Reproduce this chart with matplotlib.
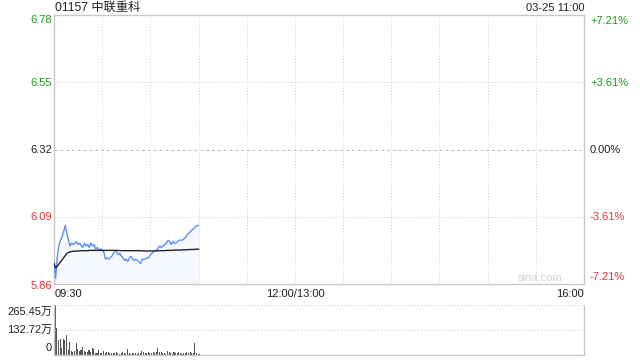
import matplotlib
matplotlib.use("Agg")
import matplotlib.pyplot as plt
import numpy as np

plt.rcParams['font.family'] = ['Liberation Sans', 'Noto Sans CJK SC', 'DejaVu Sans']

title = "01157 中联重科"
stamp = "03-25 11:00"
prev_close = 6.32
price_ticks = [6.78, 6.55, 6.32, 6.09, 5.86]
pct_labels = ["+7.21%", "+3.61%", "0.00%", "-3.61%", "-7.21%"]
time_labels = ["09:30", "12:00/13:00", "16:00"]
vol_labels = ["265.45万", "132.72万", "0"]
vol_ticks = [265.45, 132.72, 0]

price = [5.93, 5.88, 5.95, 5.99, 6.01, 6.02, 6.04, 6.06, 6.035, 6.01,
         5.99, 6.00, 5.995, 6.00, 6.005, 5.995, 6.00, 5.99, 5.985, 6.00,
         5.99, 5.995, 5.985, 6.00, 5.99, 5.995, 5.98, 5.985, 5.975, 5.98,
         5.975, 5.97, 5.945, 5.95, 5.945, 5.95, 5.955, 5.965, 5.975, 5.97,
         5.96, 5.965, 5.955, 5.95, 5.94, 5.945, 5.937, 5.95, 5.955, 5.945,
         5.94, 5.945, 5.94, 5.935, 5.93, 5.945, 5.945, 5.945, 5.95, 5.95,
         5.96, 5.965, 5.97, 5.975, 5.975, 5.985, 5.99, 5.985, 5.99, 5.995,
         6.00, 6.01, 6.005, 5.995, 6.005, 6.00, 6.00, 6.005, 6.01, 6.01,
         6.01, 6.015, 6.02, 6.03, 6.033, 6.04, 6.045, 6.05, 6.055, 6.06,
         6.06]

avg = [5.930, 5.915, 5.920, 5.928, 5.935, 5.942, 5.950, 5.957, 5.965, 5.968,
       5.970, 5.971, 5.972, 5.972, 5.973, 5.973, 5.973, 5.974, 5.974, 5.974,
       5.974, 5.974, 5.975, 5.975, 5.975, 5.975, 5.975, 5.975, 5.975, 5.975,
       5.975, 5.975, 5.975, 5.975, 5.975, 5.975, 5.975, 5.975, 5.975, 5.975,
       5.975, 5.974, 5.974, 5.974, 5.974, 5.974, 5.974, 5.974, 5.974, 5.974,
       5.974, 5.974, 5.974, 5.974, 5.974, 5.973, 5.973, 5.973, 5.973, 5.973,
       5.973, 5.973, 5.973, 5.973, 5.973, 5.974, 5.974, 5.974, 5.974, 5.974,
       5.975, 5.975, 5.975, 5.975, 5.975, 5.976, 5.976, 5.976, 5.976, 5.976,
       5.977, 5.977, 5.977, 5.977, 5.978, 5.978, 5.978, 5.978, 5.979, 5.979,
       5.979]

volume = [265, 141, 80, 83, 35, 83, 80, 106, 27, 67,
          23, 14, 20, 65, 30, 22, 27, 44, 22, 18,
          14, 27, 18, 35, 30, 8, 10, 27, 8, 12,
          20, 10, 18, 14, 8, 12, 10, 8, 14, 12,
          6, 8, 14, 10, 6, 32, 8, 5, 12, 8,
          10, 6, 12, 8, 22, 14, 10, 8, 16, 12,
          10, 18, 12, 14, 39, 18, 14, 8, 12, 6,
          22, 14, 10, 6, 18, 12, 8, 14, 10, 6,
          12, 8, 14, 10, 16, 12, 8, 62, 10, 6,
          4]

W, H = 640, 360
fig = plt.figure(figsize=(6.4, 3.6), dpi=100)

def fx(px):
    return px / W

def fy(py):
    return 1 - py / H

L, R = 54, 584
ax = fig.add_axes([fx(L), fy(284), fx(R - L), fy(15) - fy(284)])
axv = fig.add_axes([fx(L), fy(355), fx(R - L), fy(305) - fy(355)])

green = '#1a9e1a'
red = '#f03030'
dark = '#222222'
border = '#c8c8c8'
gridc = '#d0d0d0'

xp = np.arange(len(price))
xa = np.arange(len(avg))
xv = np.arange(len(volume))

ax.set_xlim(0, 330)
ax.set_ylim(price_ticks[-1], price_ticks[0])
ax.fill_between(xp, price, price_ticks[-1], color='#f5f8fe', lw=0, zorder=1)
ax.plot(xp, price, color='#5b8ff9', lw=1.0, zorder=3)
ax.plot(xa, avg, color='#222222', lw=1.0, zorder=4)

for t in np.arange(30, 330, 30):
    ax.axvline(t, color=gridc, lw=0.7, ls=(0, (1, 2)), zorder=0)
for p in price_ticks[1:-1]:
    if abs(p - prev_close) < 1e-9:
        ax.axhline(p, color='#b8b8b8', lw=0.7, ls=(0, (3, 3)), zorder=0)
    else:
        ax.axhline(p, color=gridc, lw=0.7, ls=(0, (1, 2)), zorder=0)

ax.set_xticks([]); ax.set_yticks([])
for s in ax.spines.values():
    s.set_color(border); s.set_linewidth(1)

fs = 8
left_y = [20, 83, 150, 217, 286]
right_y = [21, 83, 150, 217, 277]
for i, (p, lab) in enumerate(zip(price_ticks, pct_labels)):
    if p > prev_close + 1e-9:
        c = green
    elif p < prev_close - 1e-9:
        c = red
    else:
        c = dark
    fig.text(fx(52), fy(left_y[i]), f"{p:.2f}", color=c, fontsize=fs,
             ha='right', va='center')
    fig.text(fx(590), fy(right_y[i]), lab, color=c, fontsize=fs,
             ha='left', va='center')

fig.text(fx(55), fy(8), title, color=dark, fontsize=8.8, ha='left', va='center')
fig.text(fx(584), fy(8), stamp, color=dark, fontsize=fs, ha='right', va='center')

fig.text(fx(55), fy(294), time_labels[0], color=dark, fontsize=fs, ha='left', va='center')
fig.text(fx(54 + 530 * 150 / 330), fy(294), time_labels[1], color=dark, fontsize=fs,
         ha='center', va='center')
fig.text(fx(584), fy(294), time_labels[2], color=dark, fontsize=fs, ha='right', va='center')

fig.text(fx(540), fy(278), "sina.com", color='#d0d0d0', fontsize=fs, ha='center', va='center')

# volume
axv.set_xlim(-0.5, 330)
axv.set_ylim(0, vol_ticks[0])
axv.bar(xv, volume, width=0.65, align='edge', color='#555555', lw=0, antialiased=False)
axv.axhline(vol_ticks[0], color=gridc, lw=0.8, ls=(0, (1, 2)))
axv.axhline(vol_ticks[1], color=gridc, lw=0.8, ls=(0, (1, 2)))
axv.set_xticks([]); axv.set_yticks([])
axv.spines['top'].set_visible(False)
for k in ['left', 'right', 'bottom']:
    axv.spines[k].set_color(border); axv.spines[k].set_linewidth(1)
vol_y = [312, 330, 348]
for lab, yy in zip(vol_labels, vol_y):
    fig.text(fx(52), fy(yy), lab, color=dark, fontsize=fs, ha='right', va='center')

fig.savefig('out.png', dpi=100)
